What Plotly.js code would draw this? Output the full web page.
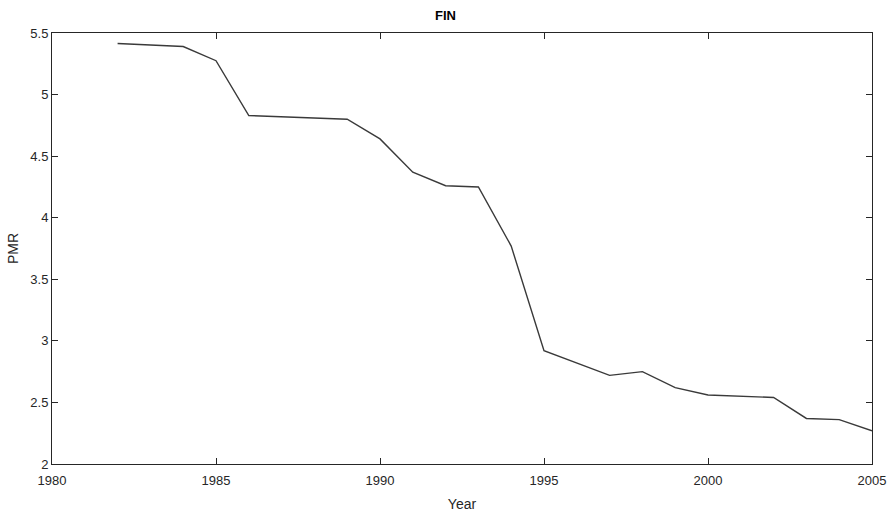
<!DOCTYPE html>
<html>
<head>
<meta charset="utf-8">
<script src="https://cdn.plot.ly/plotly-3.0.1.min.js"></script>
<style>html,body{margin:0;padding:0;background:#fff;}#chart{width:891px;height:516px;}</style>
</head>
<body>
<div id="chart"></div>
<script>
const years = [1982, 1984, 1985, 1986, 1989, 1990, 1991, 1992, 1993, 1994, 1995, 1997, 1998, 1999, 2000, 2002, 2003, 2004, 2005];
const pmr   = [5.415, 5.39, 5.275, 4.83, 4.80, 4.64, 4.37, 4.26, 4.25, 3.77, 2.92, 2.72, 2.75, 2.62, 2.56, 2.54, 2.37, 2.36, 2.27];
const xTicks = [1980, 1985, 1990, 1995, 2000, 2005];
const yTicks = [2, 2.5, 3, 3.5, 4, 4.5, 5, 5.5];

const axisColor = '#262626';
const fontFam = 'Liberation Sans, Arial, Helvetica, sans-serif';

Plotly.newPlot('chart', [{
  x: years, y: pmr, type: 'scatter', mode: 'lines',
  line: {color: '#3a3a3a', width: 1.4}
}], {
  width: 891, height: 516,
  margin: {l: 52, r: 19, t: 33, b: 52},
  paper_bgcolor: '#fff', plot_bgcolor: '#fff',
  showlegend: false,
  title: {text: '<b>FIN</b>', x: 0.5, xanchor: 'center', y: 0.97, yanchor: 'middle',
          font: {family: fontFam, size: 13, color: '#000'}},
  xaxis: {
    range: [1980, 2005], tickvals: xTicks, ticktext: xTicks.map(String),
    ticks: 'inside', ticklen: 6, tickcolor: axisColor, tickwidth: 1,
    showline: true, linecolor: axisColor, linewidth: 1, mirror: 'ticks',
    showgrid: false, zeroline: false, ticklabelstandoff: 4,
    tickfont: {family: fontFam, size: 13, color: '#262626'},
    title: {text: 'Year', font: {family: fontFam, size: 14, color: '#262626'}, standoff: 12}
  },
  yaxis: {
    range: [2, 5.5], tickvals: yTicks, ticktext: yTicks.map(String),
    ticks: 'inside', ticklen: 6, tickcolor: axisColor, tickwidth: 1,
    showline: true, linecolor: axisColor, linewidth: 1, mirror: 'ticks',
    showgrid: false, zeroline: false,
    tickfont: {family: fontFam, size: 13, color: '#262626'},
    title: {text: 'PMR', font: {family: fontFam, size: 14, color: '#262626'}, standoff: 8}
  }
}, {displayModeBar: false, staticPlot: true});
</script>
</body>
</html>
